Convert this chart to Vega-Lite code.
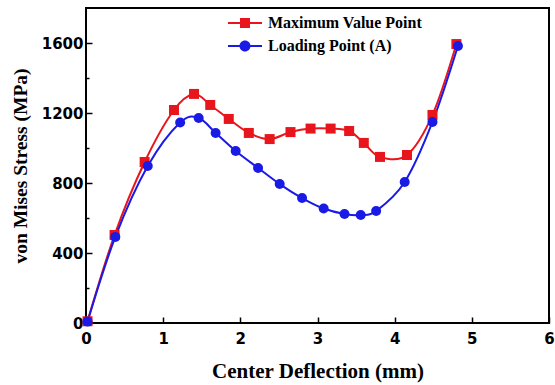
{
  "$schema": "https://vega.github.io/schema/vega-lite/v6.json",
  "width": 463,
  "height": 315,
  "autosize": {"type": "none"},
  "padding": {"left": 86, "top": 8, "right": 6, "bottom": 62},
  "background": "white",
  "config": {
    "view": {"stroke": "black", "strokeWidth": 2},
    "axis": {
      "domain": false,
      "grid": false,
      "tickColor": "black",
      "tickWidth": 1.5,
      "labelFont": "DejaVu Sans",
      "labelFontWeight": "bold",
      "labelFontSize": 15,
      "labelColor": "black",
      "titleFont": "Liberation Serif",
      "titleFontWeight": "bold",
      "titleColor": "black"
    }
  },
  "data": {
    "values": [
      {"s": "Maximum Value Point", "x": 0.02, "y": 10},
      {"s": "Maximum Value Point", "x": 0.37, "y": 503},
      {"s": "Maximum Value Point", "x": 0.76, "y": 920},
      {"s": "Maximum Value Point", "x": 1.14, "y": 1217},
      {"s": "Maximum Value Point", "x": 1.40, "y": 1309},
      {"s": "Maximum Value Point", "x": 1.61, "y": 1246},
      {"s": "Maximum Value Point", "x": 1.85, "y": 1166},
      {"s": "Maximum Value Point", "x": 2.11, "y": 1086},
      {"s": "Maximum Value Point", "x": 2.38, "y": 1051},
      {"s": "Maximum Value Point", "x": 2.65, "y": 1091},
      {"s": "Maximum Value Point", "x": 2.91, "y": 1111},
      {"s": "Maximum Value Point", "x": 3.17, "y": 1111},
      {"s": "Maximum Value Point", "x": 3.41, "y": 1097},
      {"s": "Maximum Value Point", "x": 3.60, "y": 1029},
      {"s": "Maximum Value Point", "x": 3.81, "y": 949},
      {"s": "Maximum Value Point", "x": 4.16, "y": 960},
      {"s": "Maximum Value Point", "x": 4.49, "y": 1189},
      {"s": "Maximum Value Point", "x": 4.80, "y": 1594},
      {"s": "Loading Point (A)", "x": 0.02, "y": 8},
      {"s": "Loading Point (A)", "x": 0.38, "y": 492},
      {"s": "Loading Point (A)", "x": 0.80, "y": 897},
      {"s": "Loading Point (A)", "x": 1.22, "y": 1146},
      {"s": "Loading Point (A)", "x": 1.46, "y": 1171},
      {"s": "Loading Point (A)", "x": 1.68, "y": 1086},
      {"s": "Loading Point (A)", "x": 1.94, "y": 983},
      {"s": "Loading Point (A)", "x": 2.23, "y": 886},
      {"s": "Loading Point (A)", "x": 2.51, "y": 794},
      {"s": "Loading Point (A)", "x": 2.80, "y": 714},
      {"s": "Loading Point (A)", "x": 3.08, "y": 654},
      {"s": "Loading Point (A)", "x": 3.35, "y": 623},
      {"s": "Loading Point (A)", "x": 3.56, "y": 617},
      {"s": "Loading Point (A)", "x": 3.76, "y": 640},
      {"s": "Loading Point (A)", "x": 4.13, "y": 806},
      {"s": "Loading Point (A)", "x": 4.49, "y": 1149},
      {"s": "Loading Point (A)", "x": 4.82, "y": 1583}
    ]
  },
  "encoding": {
    "x": {
      "field": "x", "type": "quantitative",
      "scale": {"domain": [0, 6], "nice": false, "zero": false},
      "axis": {
        "title": "Center Deflection (mm)",
        "titleFontSize": 21,
        "titlePadding": 14,
        "values": [0, 0.5, 1, 1.5, 2, 2.5, 3, 3.5, 4, 4.5, 5, 5.5, 6],
        "format": "d",
        "labelExpr": "datum.value % 1 === 0 ? datum.label : ''",
        "tickSize": {"condition": {"test": "datum.value % 1 === 0", "value": -6}, "value": -3},
        "labelPadding": 14,
        "labelFlush": false
      }
    },
    "y": {
      "field": "y", "type": "quantitative",
      "scale": {"domain": [0, 1800], "nice": false},
      "axis": {
        "title": "von Mises Stress (MPa)",
        "titleFontSize": 19.5,
        "titlePadding": 11,
        "values": [0, 200, 400, 600, 800, 1000, 1200, 1400, 1600],
        "labelExpr": "datum.value % 400 === 0 ? datum.label : ''",
        "tickSize": {"condition": {"test": "datum.value % 400 === 0", "value": -6}, "value": -3},
        "labelPadding": 9,
        "format": "d"
      }
    },
    "color": {
      "field": "s", "type": "nominal",
      "scale": {"domain": ["Maximum Value Point", "Loading Point (A)"], "range": ["#e8161c", "#1a1ae6"]},
      "legend": {
        "title": null,
        "orient": "none",
        "legendX": 149,
        "legendY": 5,
        "padding": 0,
        "symbolSize": 400,
        "symbolStrokeWidth": 0,
        "labelFont": "Liberation Serif",
        "labelFontWeight": "bold",
        "labelFontSize": 16,
        "labelColor": "black",
        "labelOffset": 13,
        "rowPadding": 5,
        "encode": {
          "symbols": {
            "update": {
              "shape": {"signal": "datum.value === 'Maximum Value Point' ? 'M-1.7,-0.1H1.7V0.1H-1.7Z M-0.5,-0.5H0.5V0.5H-0.5Z' : 'M-1.7,-0.1H1.7V0.1H-1.7Z M0.55,0A0.55,0.55 0 1,1 -0.55,0A0.55,0.55 0 1,1 0.55,0Z'"},
              "fill": {"signal": "datum.value === 'Maximum Value Point' ? '#e8161c' : '#1a1ae6'"},
              "opacity": {"value": 1},
              "fillOpacity": {"value": 1},
              "strokeWidth": {"value": 0}
            }
          }
        }
      }
    }
  },
  "layer": [
    {
      "mark": {"type": "line", "interpolate": "cardinal", "strokeWidth": 2}
    },
    {
      "mark": {"type": "point", "filled": true, "opacity": 1, "size": 100},
      "encoding": {
        "shape": {
          "condition": {"test": "datum.s === 'Loading Point (A)'", "value": "circle"},
          "value": "square"
        }
      }
    }
  ]
}
